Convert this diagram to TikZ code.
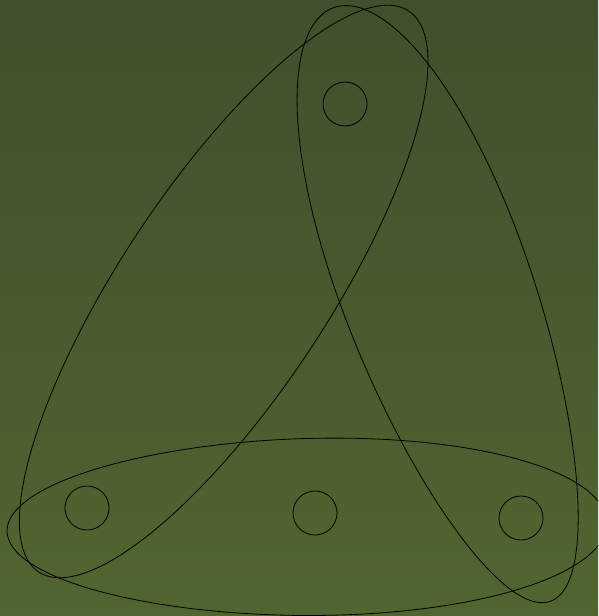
\documentclass[tikz,border=0pt]{standalone}
\usepackage{tikz}
\definecolor{bgtop}{RGB}{66,79,45}
\definecolor{bgbot}{RGB}{81,101,48}
\tikzstyle{vertex} = [circle, minimum size=44pt, inner sep=0pt, draw=black, line width=0.8pt]
\tikzstyle{hedge} = [draw=black, line width=0.8pt]

\begin{document}
\begin{tikzpicture}[x=1pt, y=-1pt]
\useasboundingbox (0,0) rectangle (598,616);
\clip (0,0) rectangle (598,616);
\fill [top color=bgtop, bottom color=bgbot] (0,0) rectangle (598,616);

\node (vtop) [vertex] at (345,104) {};
\node (vleft) [vertex] at (87,508) {};
\node (vmid) [vertex] at (315,513) {};
\node (vright) [vertex] at (521,518) {};

% edge {vleft, vtop}
\draw [hedge, shift={(223.7,291.5)}, rotate=56.6] plot [smooth cycle, domain=0:357.5, samples=144, variable=\p] ({336*cos(\p)}, {104*sin(\p)});
% edge {vtop, vright}
\draw [hedge, shift={(442,304.5)}, rotate=-69.9] plot [smooth cycle, domain=0:357.5, samples=144, variable=\p] ({316*cos(\p)}, {95*sin(\p)*(1-0.1*cos(\p))});
% edge {vleft, vmid, vright}
\draw [hedge, shift={(307,527)}, rotate=0.8] plot [smooth cycle, domain=0:357.5, samples=144, variable=\p] ({300*cos(\p)}, {88.5*sin(\p)*(1+0.05*cos(\p))});

\end{tikzpicture}
\end{document}
